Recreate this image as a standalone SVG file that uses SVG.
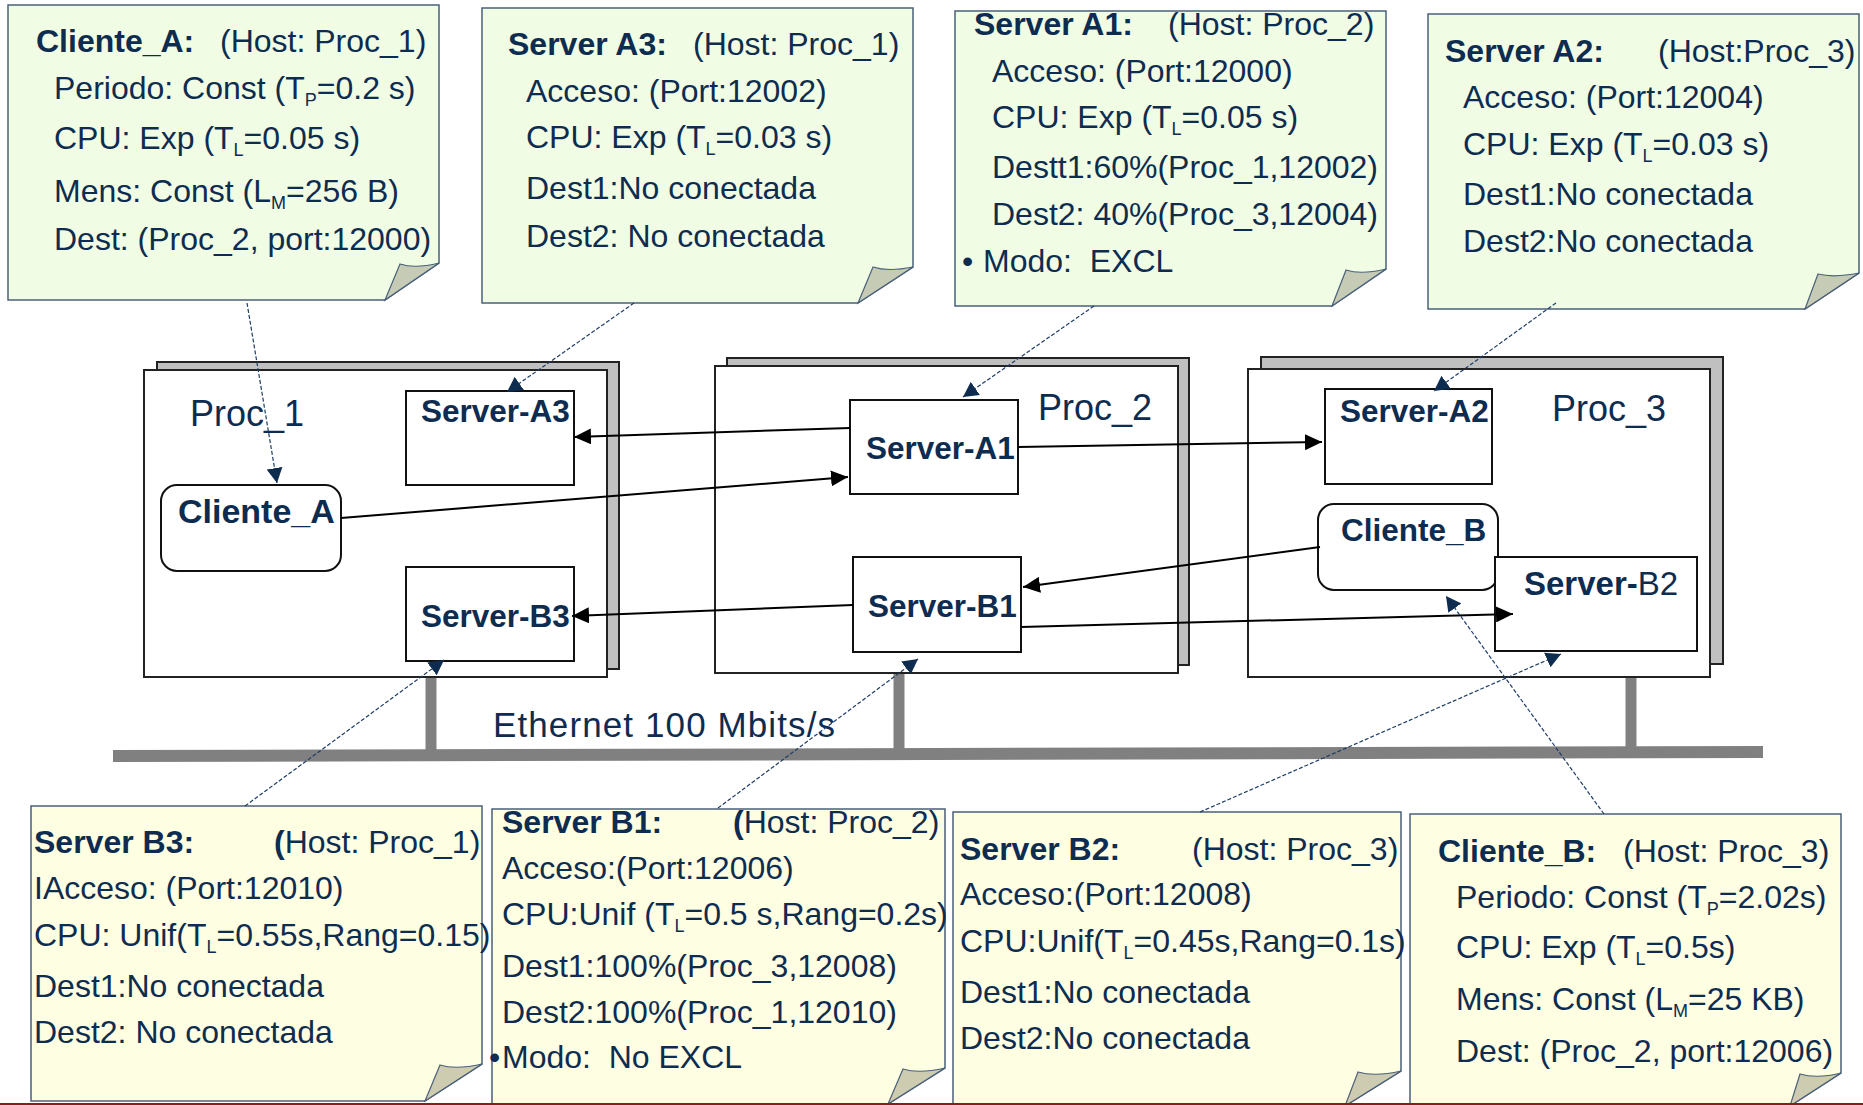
<svg xmlns="http://www.w3.org/2000/svg" width="1863" height="1105" viewBox="0 0 1863 1105">
<style>
text{font-family:"Liberation Sans",Arial,sans-serif;fill:#0e2c50;white-space:pre}
.nt{font-size:32px}
.b{font-weight:bold}
.sub{font-size:18px}
.note-g{fill:#f0fde4;stroke:#4a607a;stroke-width:1.5}
.note-y{fill:#fefee2;stroke:#4a607a;stroke-width:1.5}
.fold-g{fill:#c5cbb5;stroke:#4a607a;stroke-width:1.2}
.fold-y{fill:#cdcbb0;stroke:#4a607a;stroke-width:1.2}
.shadow{fill:#c0c0c0;stroke:#222;stroke-width:2}
.proc{fill:#fff;stroke:#222;stroke-width:2}
.comp{fill:#fff;stroke:#111;stroke-width:2}
.plabel{font-size:36px}
.clabel{font-size:31.5px;font-weight:bold}
.bus{stroke:#808080;fill:none}
.solid{stroke:#000;stroke-width:2;fill:none;marker-end:url(#arr)}
.dash{stroke:#1e3d66;stroke-width:1.2;stroke-dasharray:4 2;fill:none;marker-end:url(#arrn)}
</style>
<defs>
<marker id="arr" markerUnits="userSpaceOnUse" markerWidth="18" markerHeight="16" refX="17" refY="8" orient="auto">
<path d="M0,0 L17,8 L0,16 z" fill="#000"/>
</marker>
<marker id="arrn" markerUnits="userSpaceOnUse" markerWidth="16" markerHeight="16" refX="15" refY="8" orient="auto">
<path d="M0,0 L15,8 L0,16 z" fill="#0e2c50"/>
</marker>
</defs>
<rect x="0" y="0" width="1863" height="1105" fill="#fff"/>

<!-- Ethernet bus -->
<g id="ethernet">
<line class="bus" x1="113" y1="756" x2="1763" y2="752" stroke-width="12"/>
<line class="bus" x1="431" y1="677" x2="431" y2="756" stroke-width="11"/>
<line class="bus" x1="899" y1="673" x2="899" y2="755" stroke-width="11"/>
<line class="bus" x1="1631" y1="677" x2="1631" y2="752" stroke-width="11"/>
<text x="493" y="737" style="font-size:35px" textLength="342">Ethernet 100 Mbits/s</text>
</g>

<!-- Processors -->
<g id="proc1">
<rect class="shadow" x="157" y="362" width="462" height="307"/>
<rect class="proc" x="144" y="370" width="463" height="307"/>
<text class="plabel" x="190" y="426">Proc_1</text>
</g>
<g id="proc2">
<rect class="shadow" x="727" y="358" width="462" height="307"/>
<rect class="proc" x="715" y="366" width="463" height="307"/>
<text class="plabel" x="1038" y="420">Proc_2</text>
</g>
<g id="proc3">
<rect class="shadow" x="1261" y="357" width="462" height="307"/>
<rect class="proc" x="1248" y="369" width="462" height="308"/>
<text class="plabel" x="1552" y="421">Proc_3</text>
</g>

<!-- Components -->
<g id="server-a3">
<rect class="comp" x="406" y="391" width="168" height="94"/>
<text class="clabel" x="421" y="422">Server-A3</text>
</g>
<g id="cliente-a">
<rect class="comp" x="161" y="485" width="180" height="86" rx="16"/>
<text class="clabel" x="178" y="523" style="font-size:34px">Cliente_A</text>
</g>
<g id="server-b3">
<rect class="comp" x="406" y="567" width="168" height="94"/>
<text class="clabel" x="421" y="627">Server-B3</text>
</g>
<g id="server-a1">
<rect class="comp" x="850" y="400" width="168" height="94"/>
<text class="clabel" x="866" y="459">Server-A1</text>
</g>
<g id="server-b1">
<rect class="comp" x="853" y="557" width="168" height="95"/>
<text class="clabel" x="868" y="617">Server-B1</text>
</g>
<g id="server-a2">
<rect class="comp" x="1325" y="389" width="167" height="95"/>
<text class="clabel" x="1340" y="422">Server-A2</text>
</g>
<g id="cliente-b">
<rect class="comp" x="1318" y="504" width="180" height="86" rx="16"/>
<text class="clabel" x="1341" y="541">Cliente_B</text>
</g>
<g id="server-b2">
<rect class="comp" x="1495" y="557" width="202" height="94"/>
<text x="1524" y="595" style="font-size:33px"><tspan class="b">Server-</tspan>B2</text>
</g>

<!-- Notes -->
<g id="note-cliente-a">
<path class="note-g" d="M8,5 H439 V263 L385,300 H8 Z"/>
<path class="fold-g" d="M385,300 L400,264 Q415,269 439,263 Z"/>
<text class="nt" x="36" y="52"><tspan class="b">Cliente_A:</tspan></text>
<text class="nt" x="220" y="52">(Host: Proc_1)</text>
<text class="nt" x="54" y="99">Periodo: Const (T<tspan class="sub" dy="7">P</tspan><tspan dy="-7">=0.2 s)</tspan></text>
<text class="nt" x="54" y="149">CPU: Exp (T<tspan class="sub" dy="7">L</tspan><tspan dy="-7">=0.05 s)</tspan></text>
<text class="nt" x="54" y="202">Mens: Const (L<tspan class="sub" dy="7">M</tspan><tspan dy="-7">=256 B)</tspan></text>
<text class="nt" x="54" y="250">Dest: (Proc_2, port:12000)</text>
</g>
<g id="note-server-a3">
<path class="note-g" d="M482,8 H913 V267 L858,303 H482 Z"/>
<path class="fold-g" d="M858,303 L873,267 Q888,272 913,267 Z"/>
<text class="nt b" x="508" y="55">Server A3:</text>
<text class="nt" x="693" y="55">(Host: Proc_1)</text>
<text class="nt" x="526" y="102">Acceso: (Port:12002)</text>
<text class="nt" x="526" y="148">CPU: Exp (T<tspan class="sub" dy="7">L</tspan><tspan dy="-7">=0.03 s)</tspan></text>
<text class="nt" x="526" y="199">Dest1:No conectada</text>
<text class="nt" x="526" y="247">Dest2: No conectada</text>
</g>
<g id="note-server-a1">
<path class="note-g" d="M955,11 H1386 V269 L1332,306 H955 Z"/>
<path class="fold-g" d="M1332,306 L1346,270 Q1361,275 1386,269 Z"/>
<text class="nt b" x="974" y="35">Server A1:</text>
<text class="nt" x="1168" y="35">(Host: Proc_2)</text>
<text class="nt" x="992" y="82">Acceso: (Port:12000)</text>
<text class="nt" x="992" y="128">CPU: Exp (T<tspan class="sub" dy="7">L</tspan><tspan dy="-7">=0.05 s)</tspan></text>
<text class="nt" x="992" y="178">Destt1:60%(Proc_1,12002)</text>
<text class="nt" x="992" y="225">Dest2: 40%(Proc_3,12004)</text>
<text class="nt" x="962" y="272">•</text>
<text class="nt" x="983" y="272">Modo:  EXCL</text>
</g>
<g id="note-server-a2">
<path class="note-g" d="M1428,14 H1859 V273 L1805,309 H1428 Z"/>
<path class="fold-g" d="M1805,309 L1818,274 Q1834,278 1859,273 Z"/>
<text class="nt b" x="1445" y="62">Server A2:</text>
<text class="nt" x="1658" y="62">(Host:Proc_3)</text>
<text class="nt" x="1463" y="108">Acceso: (Port:12004)</text>
<text class="nt" x="1463" y="155">CPU: Exp (T<tspan class="sub" dy="7">L</tspan><tspan dy="-7">=0.03 s)</tspan></text>
<text class="nt" x="1463" y="205">Dest1:No conectada</text>
<text class="nt" x="1463" y="252">Dest2:No conectada</text>
</g>
<g id="note-server-b3">
<path class="note-y" d="M31,806 H482 V1064 L425,1101 H31 Z"/>
<path class="fold-y" d="M425,1101 L440,1065 Q456,1070 482,1064 Z"/>
<text class="nt b" x="34" y="853">Server B3:</text>
<text class="nt" x="274" y="853"><tspan class="b">(</tspan>Host: Proc_1)</text>
<text class="nt" x="34" y="899">IAcceso: (Port:12010)</text>
<text class="nt" x="34" y="946">CPU: Unif(T<tspan class="sub" dy="7">L</tspan><tspan dy="-7">=0.55s,Rang=0.15)</tspan></text>
<text class="nt" x="34" y="997">Dest1:No conectada</text>
<text class="nt" x="34" y="1043">Dest2: No conectada</text>
</g>
<g id="note-server-b1">
<path class="note-y" d="M492,809 H945 V1068 L888,1104 H492 Z"/>
<path class="fold-y" d="M888,1104 L903,1069 Q919,1074 945,1068 Z"/>
<text class="nt b" x="502" y="833">Server B1:</text>
<text class="nt" x="733" y="833"><tspan class="b">(</tspan>Host: Proc_2)</text>
<text class="nt" x="502" y="879">Acceso:(Port:12006)</text>
<text class="nt" x="502" y="925">CPU:Unif (T<tspan class="sub" dy="7">L</tspan><tspan dy="-7">=0.5 s,Rang=0.2s)</tspan></text>
<text class="nt" x="502" y="977">Dest1:100%(Proc_3,12008)</text>
<text class="nt" x="502" y="1023">Dest2:100%(Proc_1,12010)</text>
<text class="nt" x="489" y="1068">•</text>
<text class="nt" x="502" y="1068">Modo:  No EXCL</text>
</g>
<g id="note-server-b2">
<path class="note-y" d="M953,812 H1401 V1071 L1345,1106 H953 Z"/>
<path class="fold-y" d="M1345,1106 L1358,1072 Q1375,1077 1401,1071 Z"/>
<text class="nt b" x="960" y="860">Server B2:</text>
<text class="nt" x="1192" y="860">(Host: Proc_3)</text>
<text class="nt" x="960" y="905">Acceso:(Port:12008)</text>
<text class="nt" x="960" y="952">CPU:Unif(T<tspan class="sub" dy="7">L</tspan><tspan dy="-7">=0.45s,Rang=0.1s)</tspan></text>
<text class="nt" x="960" y="1003">Dest1:No conectada</text>
<text class="nt" x="960" y="1049">Dest2:No conectada</text>
</g>
<g id="note-cliente-b">
<path class="note-y" d="M1410,814 H1841 V1073 L1790,1106 H1410 Z"/>
<path class="fold-y" d="M1790,1106 L1800,1074 Q1817,1079 1841,1073 Z"/>
<text class="nt b" x="1438" y="862">Cliente_B:</text>
<text class="nt" x="1623" y="862">(Host: Proc_3)</text>
<text class="nt" x="1456" y="908">Periodo: Const (T<tspan class="sub" dy="7">P</tspan><tspan dy="-7">=2.02s)</tspan></text>
<text class="nt" x="1456" y="958">CPU: Exp (T<tspan class="sub" dy="7">L</tspan><tspan dy="-7">=0.5s)</tspan></text>
<text class="nt" x="1456" y="1010">Mens: Const (L<tspan class="sub" dy="7">M</tspan><tspan dy="-7">=25 KB)</tspan></text>
<text class="nt" x="1456" y="1062">Dest: (Proc_2, port:12006)</text>
</g>

<rect x="0" y="1103" width="1863" height="2" fill="#8b1c1c"/>

<!-- Connectors -->
<g id="connectors">
<line class="solid" x1="850" y1="428" x2="574" y2="437"/>
<line class="solid" x1="341" y1="518" x2="848" y2="477"/>
<line class="solid" x1="1018" y1="447" x2="1322" y2="442"/>
<line class="solid" x1="1320" y1="547" x2="1023" y2="587"/>
<line class="solid" x1="853" y1="605" x2="572" y2="616"/>
<line class="solid" x1="1021" y1="627" x2="1513" y2="614"/>
<line class="dash" x1="247" y1="303" x2="277" y2="483"/>
<line class="dash" x1="634" y1="303" x2="507" y2="392"/>
<line class="dash" x1="1094" y1="306" x2="963" y2="397"/>
<line class="dash" x1="1556" y1="303" x2="1434" y2="391"/>
<line class="dash" x1="1200" y1="812" x2="1561" y2="654"/>
<line class="dash" x1="1604" y1="814" x2="1446" y2="596"/>
<line class="dash" x1="245" y1="806" x2="444" y2="660"/>
<line class="dash" x1="718" y1="808" x2="918" y2="659"/>
</g>
</svg>
